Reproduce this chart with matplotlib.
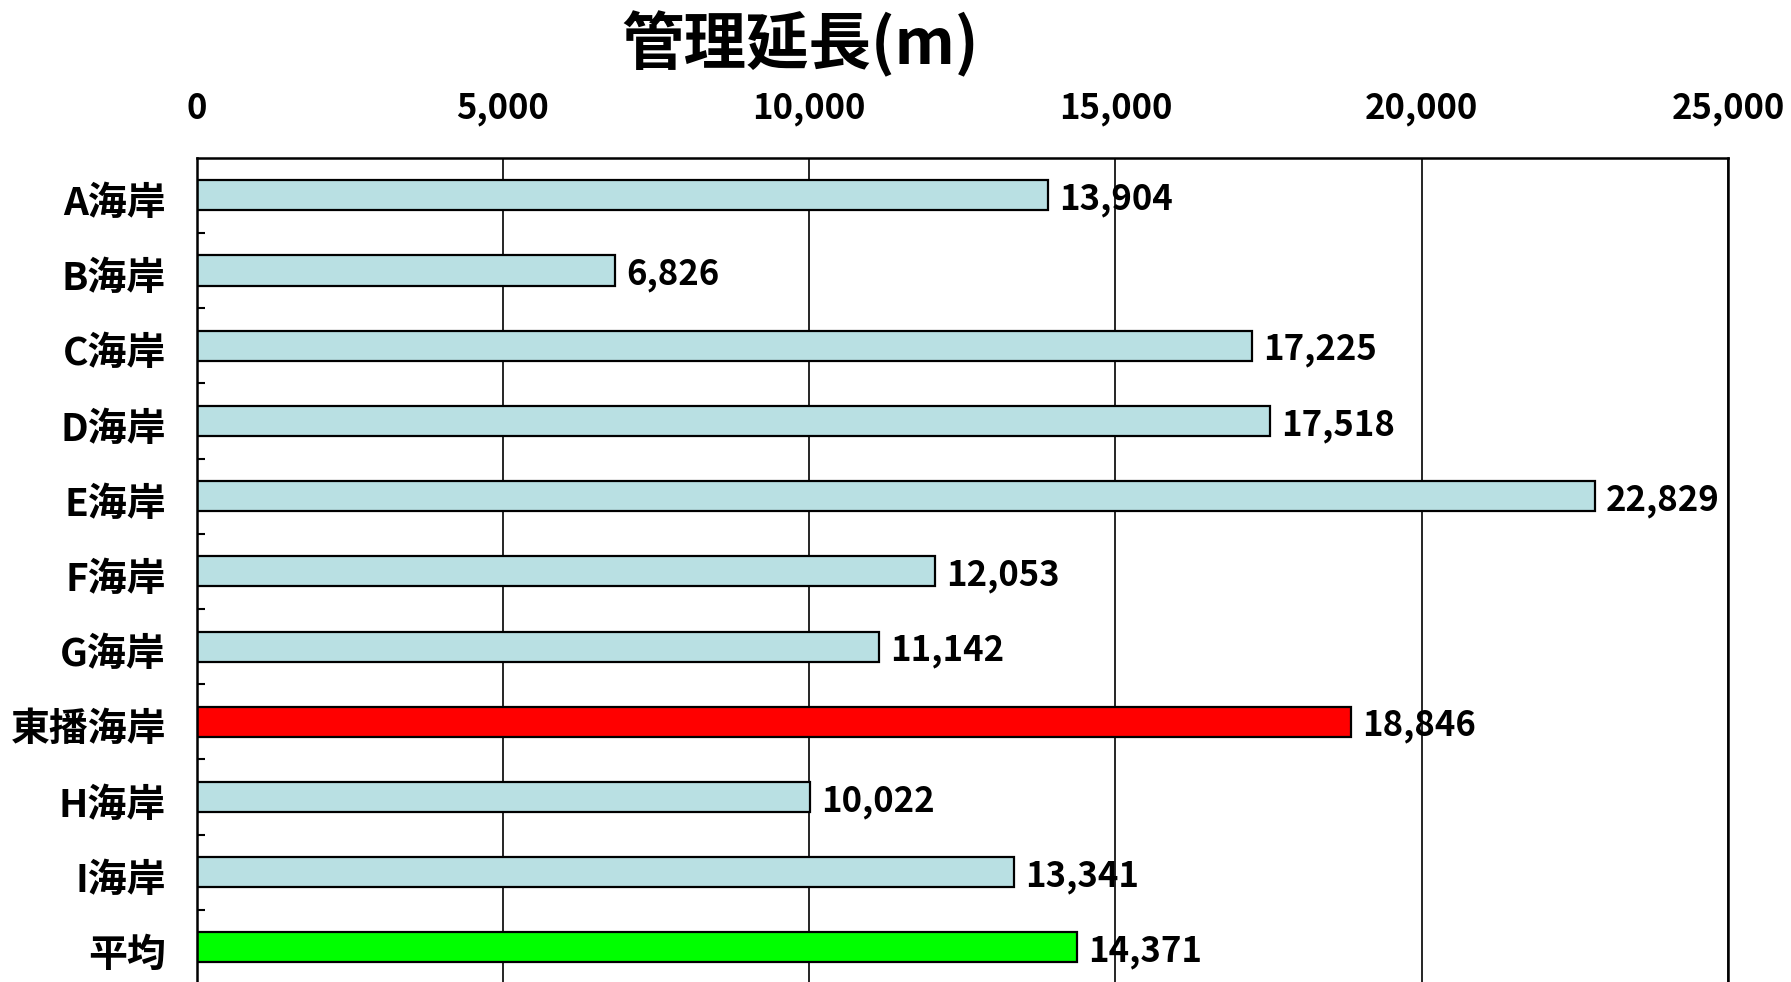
import matplotlib
matplotlib.use("Agg")
import matplotlib.pyplot as plt
from matplotlib.ticker import FuncFormatter, FixedLocator
from matplotlib.transforms import ScaledTranslation

plt.rcParams['font.family'] = ['Noto Sans CJK JP', 'DejaVu Sans']

categories = ["A海岸", "B海岸", "C海岸", "D海岸", "E海岸", "F海岸", "G海岸",
              "東播海岸", "H海岸", "I海岸", "平均"]
values = [13904, 6826, 17225, 17518, 22829, 12053, 11142, 18846, 10022, 13341, 14371]
colors = ["#B9E0E3"] * 7 + ["#FF0000"] + ["#B9E0E3"] * 2 + ["#00FF00"]
title = "管理延長(m)"
xticks = [0, 5000, 10000, 15000, 20000, 25000]

fig = plt.figure(figsize=(17.91, 9.82), dpi=100)
ax = fig.add_axes([196.5 / 1791, -3 / 982, (1728 - 196.5) / 1791, (985 - 157.7) / 982])

y = list(range(len(categories)))
ax.barh(y, values, height=0.4, color=colors, edgecolor="black", linewidth=1.6, zorder=2)

ax.set_xlim(0, 25000)
ax.set_ylim(len(categories) - 0.5, -0.5)
ax.xaxis.set_major_locator(FixedLocator(xticks))
ax.xaxis.set_major_formatter(FuncFormatter(lambda v, p: f"{int(v):,}"))
ax.xaxis.tick_top()
ax.tick_params(axis="x", length=0, pad=23, labelsize=25)
for lab in ax.get_xticklabels():
    lab.set_fontweight("bold")

ax.set_yticks(y)
ax.set_yticklabels(categories, fontsize=28, fontweight="bold")
ax.tick_params(axis="y", which="major", length=0, pad=22)
shift = ScaledTranslation(0, -3 / 72, fig.dpi_scale_trans)
for lab in ax.get_yticklabels():
    lab.set_transform(lab.get_transform() + shift)
ax.set_yticks([i + 0.5 for i in y[:-1]], minor=True)
ax.tick_params(axis="y", which="minor", direction="in", length=6, width=1.5, color="black")

ax.grid(axis="x", color="black", linewidth=1.2, zorder=1)
ax.set_axisbelow(True)
for s in ax.spines.values():
    s.set_linewidth(1.8)
    s.set_color("black")

for yi, v in zip(y, values):
    ax.annotate(f"{v:,}", xy=(v, yi), xytext=(8, -3), textcoords="offset points",
                ha="left", va="center", fontsize=25, fontweight="bold", zorder=0.4)

fig.text(800 / 1791, 1 - 44 / 982, title, ha="center", va="center",
         fontsize=45, fontweight="bold")

fig.savefig("out.png", dpi=100)
